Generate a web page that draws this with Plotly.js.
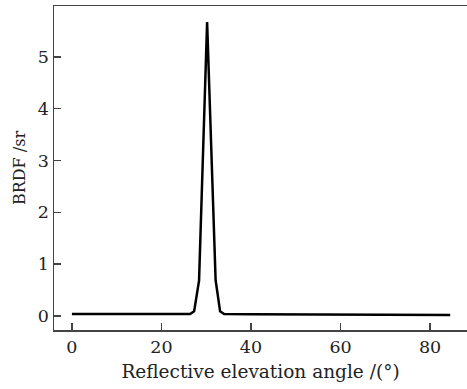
<!DOCTYPE html>
<html>
<head>
<meta charset="utf-8">
<script src="https://cdn.plot.ly/plotly-3.0.1.min.js"></script>
<style>html,body{margin:0;padding:0;background:#fff;}#chart{width:467px;height:389px;}</style>
</head>
<body>
<div id="chart"></div>
<script>
const angle = [0, 5, 10, 15, 20, 25, 26.4, 27.3, 28.4, 30.2, 32.1, 33.1, 34.0, 40, 50, 60, 70, 80, 84.5];
const brdf  = [0.04, 0.04, 0.04, 0.04, 0.04, 0.04, 0.04, 0.09, 0.68, 5.67, 0.69, 0.09, 0.04, 0.035, 0.03, 0.03, 0.025, 0.02, 0.02];
const xTicks = [0, 20, 40, 60, 80];
const yTicks = [0, 1, 2, 3, 4, 5];

const fontFam = 'DejaVu Serif, serif';
const txt = '#222';
const trace = {
  x: angle, y: brdf, type: 'scatter', mode: 'lines',
  line: {color: '#000', width: 2.5}
};
const layout = {
  width: 467, height: 389,
  margin: {l: 54, r: 0, t: 6, b: 59},
  paper_bgcolor: '#fff', plot_bgcolor: '#fff',
  showlegend: false,
  font: {family: fontFam, size: 17, color: txt},
  xaxis: {
    range: [-4, 88.25], tickvals: xTicks, ticktext: xTicks.map(String),
    ticks: 'inside', ticklen: 7, tickwidth: 1.5, tickcolor: '#444',
    showline: true, linecolor: '#444', linewidth: 1.5, mirror: true,
    showgrid: false, zeroline: false,
    title: {text: 'Reflective elevation angle /(°)', font: {family: fontFam, size: 18.5, color: txt}, standoff: 9},
    tickfont: {family: fontFam, size: 17.5, color: txt}
  },
  yaxis: {
    range: [-0.27, 5.98], tickvals: yTicks, ticktext: yTicks.map(String),
    ticks: 'inside', ticklen: 7, tickwidth: 1.5, tickcolor: '#444',
    showline: true, linecolor: '#444', linewidth: 1.5,
    showgrid: false, zeroline: false,
    title: {text: 'BRDF /sr', font: {family: fontFam, size: 16, color: txt}, standoff: 8},
    tickfont: {family: fontFam, size: 17.5, color: txt}
  }
};
Plotly.newPlot('chart', [trace], layout, {displayModeBar: false, staticPlot: true});
</script>
</body>
</html>
